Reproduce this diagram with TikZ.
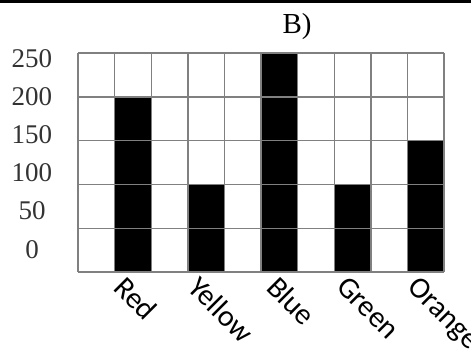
\documentclass[tikz,border=0pt]{standalone}
\usepackage{fontspec}
\setmainfont{Liberation Serif}
\newfontfamily\catfont{Carlito}

\tikzset{
  gridline/.style={draw=gray, line width=1.4pt},
  barfill/.style={fill=black},
  valuelabel/.style={anchor=base, text=black!80, font=\fontsize{27}{32}\selectfont, inner sep=0pt},
  catlabel/.style={rotate=-45, anchor=north west, inner sep=0pt, font=\catfont\fontsize{30}{34}\selectfont}
}

\begin{document}
\begin{tikzpicture}[x=1pt,y=-1pt]
   \useasboundingbox (0,0) rectangle (471,348);

   % rule at the top
   \draw[line width=3pt] (0,1.5) -- (471,1.5);

   % title
   \node[valuelabel, text=black, font=\fontsize{29}{34}\selectfont] (title) at (297,33) {B)};

   % bars: column / value
   \foreach \c/\v in {2/200, 4/100, 6/250, 8/100, 10/150}
      \fill[barfill] ({78+(\c-1)*36.6},{272-\v/50*43.8}) rectangle ({78+\c*36.6},272);

   % grid
   \foreach \i in {0,...,10}
      \draw[gridline] ({78+\i*36.6},53) -- ({78+\i*36.6},272);
   \foreach \j in {0,...,5}
      \draw[gridline] (78,{53+\j*43.8}) -- (444,{53+\j*43.8});

   % values on the left
   \foreach \v [count=\k from 0] in {250,200,150,100,50,0}
      \node[valuelabel] (val\v) at (32,{67.5+\k*38.1}) {\v};

   % colours under the bars
   \node[catlabel] (red)    at (127,274) {Red};
   \node[catlabel] (yellow) at (201,274) {Yellow};
   \node[catlabel] (blue)   at (280,274) {Blue};
   \node[catlabel] (green)  at (349,274) {Green};
   \node[catlabel] (orange) at (420,274) {Orange};

\end{tikzpicture}
\end{document}
